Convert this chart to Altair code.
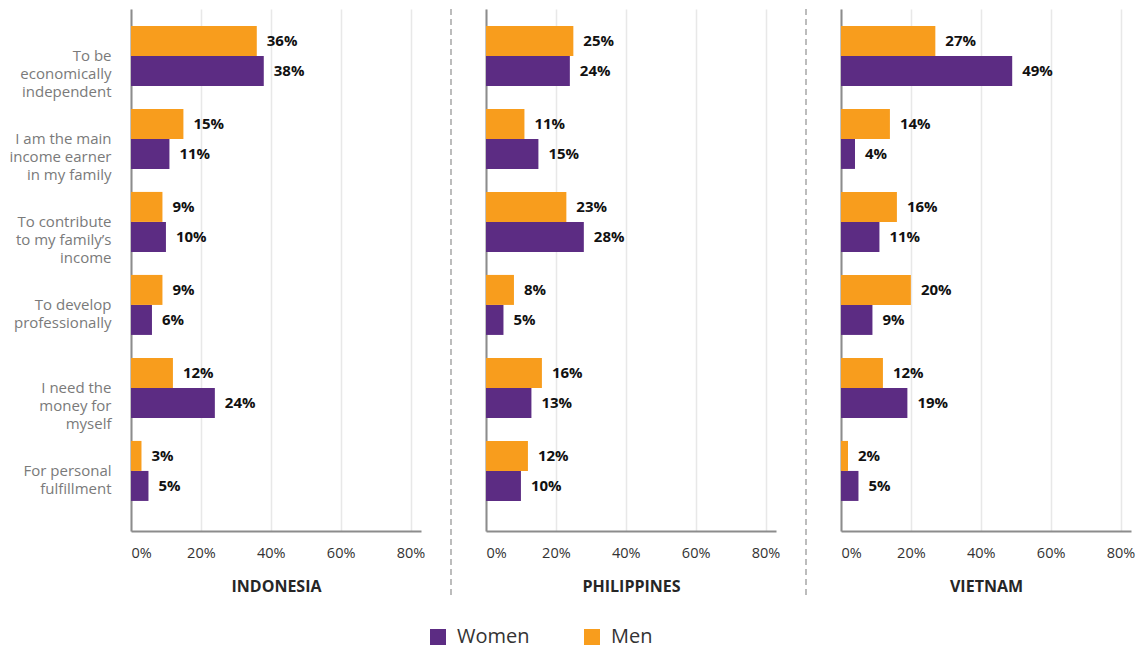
import altair as alt
import pandas as pd

categories = [
    "To be|economically|independent",
    "I am the main|income earner|in my family",
    "To contribute|to my family’s|income",
    "To develop|professionally",
    "I need the|money for|myself",
    "For personal|fulfillment",
]
countries = ["INDONESIA", "PHILIPPINES", "VIETNAM"]
genders = ["Women", "Men"]

women_indonesia = [38, 11, 10, 6, 24, 5]
men_indonesia = [36, 15, 9, 9, 12, 3]
women_philippines = [24, 15, 28, 5, 13, 10]
men_philippines = [25, 11, 23, 8, 16, 12]
women_vietnam = [49, 4, 11, 9, 19, 5]
men_vietnam = [27, 14, 16, 20, 12, 2]

series = {
    "INDONESIA": (women_indonesia, men_indonesia),
    "PHILIPPINES": (women_philippines, men_philippines),
    "VIETNAM": (women_vietnam, men_vietnam),
}

rows = []
for c in countries:
    w, m = series[c]
    for i, cat in enumerate(categories):
        rows.append({"country": c, "category": cat, "gender": "Women", "value": w[i] / 100})
        rows.append({"country": c, "category": cat, "gender": "Men", "value": m[i] / 100})
df = pd.DataFrame(rows)

PURPLE = "#5C2C83"
ORANGE = "#F89D1D"
FONT = "Open Sans"


def panel(country, first):
    sub = df[df["country"] == country]
    base = alt.Chart(sub)
    x = alt.X(
        "value:Q",
        scale=alt.Scale(domain=[0, 0.83], nice=False, zero=True),
        axis=alt.Axis(
            values=[0, 0.2, 0.4, 0.6, 0.8],
            format=".0%",
            title=country,
            grid=True,
            gridColor="#e8e8e8",
            gridWidth=1.5,
            domainColor="#8c8c8c",
            domainWidth=2,
            ticks=False,
            labelFont=FONT,
            labelFontSize=14.5,
            labelColor="#333333",
            labelPadding=15,
            titleFont=FONT,
            titleFontSize=16,
            titleFontWeight="bold",
            titleColor="#262626",
            titlePadding=19,
        ),
    )
    y = alt.Y(
        "category:N",
        sort=categories,
        scale=alt.Scale(paddingInner=0.277, paddingOuter=0.283, align=0.36),
        axis=alt.Axis(
            title=None,
            labels=first,
            labelExpr="split(datum.label, '|')",
            labelFont=FONT,
            labelFontSize=15,
            labelColor="#7a7a7a",
            labelLineHeight=18,
            labelPadding=20,
            ticks=False,
            domainColor="#8c8c8c",
            domainWidth=2,
            grid=False,
        ),
    )
    yoff = alt.YOffset("gender:N", sort=["Men", "Women"])
    color = alt.Color(
        "gender:N",
        scale=alt.Scale(domain=genders, range=[PURPLE, ORANGE]),
        legend=alt.Legend(
            title=None,
            orient="none",
            direction="horizontal",
            legendX=297,
            legendY=618,
            symbolType="square",
            symbolSize=256,
            symbolStrokeWidth=0,
            labelFont=FONT,
            labelFontSize=20,
            labelColor="#333333",
            labelOffset=9,
            columnPadding=52,
        ),
    )
    bars = base.mark_bar().encode(x=x, y=y, yOffset=yoff, color=color)
    text = base.mark_text(
        align="left", baseline="middle", dx=10, font=FONT, fontSize=15,
        fontWeight="bold", color="#111111"
    ).encode(x="value:Q", y=alt.Y("category:N", sort=categories), yOffset=yoff,
             text=alt.Text("value:Q", format=".0%"))
    layers = [bars, text]
    if not first:
        sep = alt.Chart(alt.Data(values=[{"a": 1}])).mark_rule(
            color="#a6a6a6", strokeWidth=1.5, strokeDash=[6, 4]
        ).encode(x=alt.value(-35), y=alt.value(0), y2=alt.value(590))
        layers.append(sep)
    return alt.layer(*layers).properties(width=290, height=522)


chart = alt.hconcat(
    panel("INDONESIA", True),
    panel("PHILIPPINES", False),
    panel("VIETNAM", False),
    spacing=65,
    bounds="flush",
).properties(
    padding={"left": 0, "top": 0, "right": 5, "bottom": 10},
).configure_view(stroke=None)

chart.save("out.html", embed_options={"renderer": "svg", "actions": False})
